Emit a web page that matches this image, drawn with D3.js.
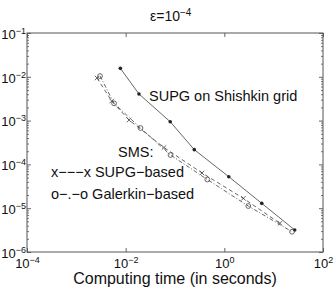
<!DOCTYPE html>
<html>
<head>
<meta charset="utf-8">
<script src="https://cdn.jsdelivr.net/npm/d3@7"></script>
<style>
  body { margin: 0; background: #fff; }
  text { font-family: "Liberation Sans", Arial, sans-serif; fill: #111; }
</style>
</head>
<body>
<div id="chart"></div>
<script>

// computing time (s) and error
var shishkinTime = [0.0078, 0.0186, 0.080, 0.246, 1.23, 5.73, 26.7]
var shishkinErr = [0.0156, 0.00405, 9.4e-4, 2.17e-4, 5.24e-5, 1.29e-5, 3.18e-6]

var smsSupgTime = [0.00262, 0.00521, 0.0117, 0.0598, 0.353, 2.43, 13.4]
var smsSupgErr = [0.0094, 0.0028, 1.03e-3, 2.43e-4, 6.37e-5, 1.68e-5, 4.52e-6]

var smsGalTime = [0.00302, 0.00581, 0.0200, 0.0811, 0.452, 3.06, 23.6]
var smsGalErr = [0.0104, 0.00248, 6.78e-4, 1.64e-4, 4.52e-5, 1.12e-5, 2.90e-6]

var xTicks = [1e-4, 1e-2, 1e0, 1e2]
var yTicks = [1e-1, 1e-2, 1e-3, 1e-4, 1e-5, 1e-6]

var width = 335
var height = 289
var margin = { top: 33, right: 12, bottom: 37, left: 27 }

var svg = d3.select("#chart")
	.append("svg")
	.attr("width", width)
	.attr("height", height)

var x = d3.scaleLog()
	.domain([1e-4, 1e2])
	.range([margin.left, width - margin.right])

var y = d3.scaleLog()
	.domain([1e-6, 1e-1])
	.range([height - margin.bottom, margin.top])

var exp = d => Math.round(Math.log10(d))

// minor ticks on y
var yMinor = []
yTicks.slice(1).forEach(t => {
	for (var k = 2; k < 10; k++) yMinor.push(t * k)
})

function superLabels(sel) {
	sel.selectAll(".tick text").each(function(d) {
		var t = d3.select(this).text("")
		t.append("tspan").text("10")
		t.append("tspan")
			.attr("dy", "-0.55em")
			.attr("font-size", "9px")
			.text(String(exp(d)).replace("-", "\u2212"))
	})
}

// bottom axis
var gx = svg.append("g")
	.attr("transform", `translate(0,${height - margin.bottom})`)
	.call(d3.axisBottom(x).tickValues(xTicks).tickSizeInner(-4).tickSizeOuter(0).tickPadding(7))
gx.select(".domain").remove()
gx.selectAll(".tick line").attr("stroke", "#666")
gx.selectAll(".tick text").attr("font-size", "13px").attr("fill", "#111")
superLabels(gx)

// top axis ticks only
var gxt = svg.append("g")
	.attr("transform", `translate(0,${margin.top})`)
	.call(d3.axisTop(x).tickValues(xTicks).tickSizeInner(-4).tickSizeOuter(0).tickFormat(""))
gxt.select(".domain").remove()
gxt.selectAll(".tick line").attr("stroke", "#666")

// left axis
var gy = svg.append("g")
	.attr("transform", `translate(${margin.left},0)`)
	.call(d3.axisLeft(y).tickValues(yTicks).tickSizeInner(-4).tickSizeOuter(0).tickPadding(1))
gy.select(".domain").remove()
gy.selectAll(".tick line").attr("stroke", "#666")
gy.selectAll(".tick text").attr("font-size", "13px").attr("fill", "#111").attr("dy", "0.4em")
superLabels(gy)

svg.append("g")
	.attr("transform", `translate(${margin.left},0)`)
	.call(d3.axisLeft(y).tickValues(yMinor).tickSizeInner(-2).tickSizeOuter(0).tickFormat(""))
	.call(g => g.select(".domain").remove())
	.selectAll(".tick line").attr("stroke", "#777")

// right axis ticks only
var right = width - margin.right
svg.append("g")
	.attr("transform", `translate(${right},0)`)
	.call(d3.axisRight(y).tickValues(yTicks).tickSizeInner(-4).tickSizeOuter(0).tickFormat(""))
	.call(g => g.select(".domain").remove())
	.selectAll(".tick line").attr("stroke", "#666")

svg.append("g")
	.attr("transform", `translate(${right},0)`)
	.call(d3.axisRight(y).tickValues(yMinor).tickSizeInner(-2).tickSizeOuter(0).tickFormat(""))
	.call(g => g.select(".domain").remove())
	.selectAll(".tick line").attr("stroke", "#777")

// frame
svg.append("rect")
	.attr("x", margin.left)
	.attr("y", margin.top)
	.attr("width", width - margin.left - margin.right)
	.attr("height", height - margin.top - margin.bottom)
	.attr("fill", "none")
	.attr("stroke", "#555")
	.attr("stroke-width", 1)

// series
var line = d3.line()
	.x(d => x(d[0]))
	.y(d => y(d[1]))

var series = [
	{ pts: d3.zip(shishkinTime, shishkinErr), dash: null, mark: "dot" },
	{ pts: d3.zip(smsSupgTime, smsSupgErr), dash: "4,3", mark: "x" },
	{ pts: d3.zip(smsGalTime, smsGalErr), dash: "4,2,1,2", mark: "o" }
]

var crossType = {
	draw: function(ctx, size) {
		var r = Math.sqrt(size) / 2
		ctx.moveTo(-r, -r); ctx.lineTo(r, r)
		ctx.moveTo(-r, r); ctx.lineTo(r, -r)
	}
}

series.forEach(s => {

	svg.append("path")
		.datum(s.pts)
		.attr("d", line)
		.attr("fill", "none")
		.attr("stroke", "#555")
		.attr("stroke-width", 0.9)
		.attr("stroke-dasharray", s.dash)

	var g = svg.append("g")

	if (s.mark == "dot") {
		g.selectAll("circle")
			.data(s.pts)
			.join("circle")
			.attr("cx", d => x(d[0]))
			.attr("cy", d => y(d[1]))
			.attr("r", 1.8)
			.attr("fill", "#222")
	} else if (s.mark == "o") {
		g.selectAll("circle")
			.data(s.pts)
			.join("circle")
			.attr("cx", d => x(d[0]))
			.attr("cy", d => y(d[1]))
			.attr("r", 2.4)
			.attr("fill", "none")
			.attr("stroke", "#444")
			.attr("stroke-width", 0.8)
	} else {
		g.selectAll("path")
			.data(s.pts)
			.join("path")
			.attr("transform", d => `translate(${x(d[0])},${y(d[1])})`)
			.attr("d", d3.symbol().type(crossType).size(20))
			.attr("fill", "none")
			.attr("stroke", "#444")
			.attr("stroke-width", 0.8)
	}
})

// title
var title = svg.append("text")
	.attr("x", 150)
	.attr("y", 21)
	.attr("font-size", "14px")
title.append("tspan").text("\u03b5=10")
title.append("tspan").attr("dy", "-0.55em").attr("font-size", "10px").text("\u22124")

// annotations
var notes = [
	{ text: "SUPG on Shishkin grid", x: 149, y: 101 },
	{ text: "SMS:", x: 118, y: 157 },
	{ text: "x\u2212\u2212\u2212x SUPG\u2212based", x: 51, y: 177 },
	{ text: "o\u2212.\u2212o Galerkin\u2212based", x: 51, y: 199 }
]

svg.append("g")
	.selectAll("text")
	.data(notes)
	.join("text")
	.attr("x", d => d.x)
	.attr("y", d => d.y)
	.attr("font-size", "14.5px")
	.text(d => d.text)

// x label
svg.append("text")
	.attr("x", (margin.left + right) / 2)
	.attr("y", 284)
	.attr("text-anchor", "middle")
	.attr("font-size", "16px")
	.text("Computing time (in seconds)")

</script>
</body>
</html>
